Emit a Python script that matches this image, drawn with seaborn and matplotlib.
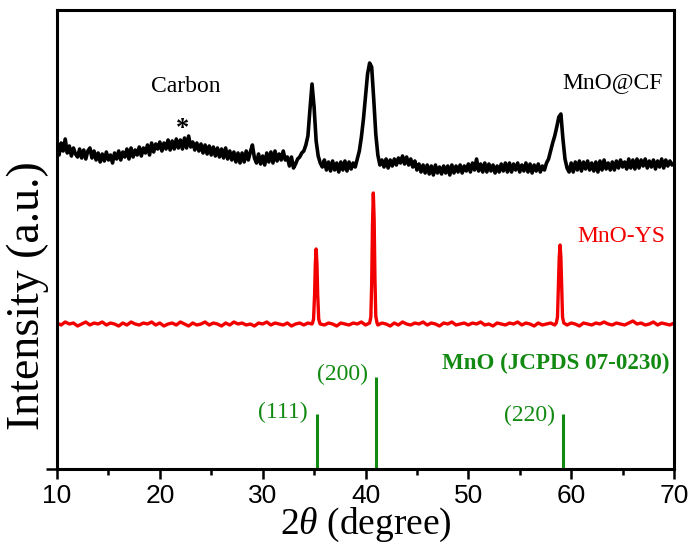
import numpy as np
import pandas as pd
import matplotlib
matplotlib.use("Agg")
import matplotlib.pyplot as plt
from matplotlib.ticker import MultipleLocator
import seaborn as sns

# ---------------- data ----------------
# MnO@CF trace, sampled every 0.2 degree from 10 to 70
cf_x_start, cf_x_step = 10.0, 0.2
cf_y = [
    321, 314, 326, 318, 330, 316, 323, 313, 321, 315,   # 10.0-11.8
    312, 320, 311, 319, 310, 318, 321, 311, 318, 309,   # 12
    316, 307, 315, 308, 317, 309, 314, 306, 316, 310,   # 14
    318, 309, 317, 312, 320, 310, 321, 312, 319, 314,   # 16
    322, 313, 321, 316, 324, 314, 326, 317, 325, 320,   # 18
    327, 318, 326, 320, 329, 319, 328, 320, 330, 321,   # 20
    329, 320, 331, 321, 333, 322, 327, 319, 326, 318,   # 22
    325, 316, 324, 315, 323, 314, 322, 313, 321, 312,   # 24
    320, 311, 321, 310, 318, 309, 317, 307, 316, 306,   # 26
    316, 307, 318, 309, 317, 324, 311, 306, 315, 305,   # 28
    313, 304, 316, 307, 317, 306, 318, 308, 315, 309,   # 30
    318, 309, 312, 303, 312, 301, 305, 310, 312, 316,   # 32
    318, 324, 333, 360, 385, 362, 328, 313, 306, 302,   # 34
    309, 299, 307, 298, 308, 299, 306, 297, 307, 299,   # 36
    308, 298, 307, 300, 306, 302, 310, 318, 332, 350,   # 38
    372, 395, 406, 402, 370, 335, 314, 304, 309, 302,   # 40
    310, 301, 309, 303, 310, 304, 311, 306, 313, 305,   # 42
    312, 304, 310, 302, 308, 299, 305, 297, 304, 296,   # 44
    304, 295, 303, 294, 304, 296, 302, 295, 303, 296,   # 46
    303, 294, 304, 296, 303, 297, 304, 296, 303, 298,   # 48
    305, 297, 306, 299, 310, 298, 305, 297, 306, 297,   # 50
    305, 298, 304, 296, 303, 297, 305, 298, 306, 297,   # 52
    306, 297, 305, 299, 306, 297, 304, 298, 306, 297,   # 54
    305, 296, 304, 298, 305, 297, 303, 299, 306, 310,   # 56
    318, 326, 333, 342, 352, 355, 330, 310, 301, 297,   # 58
    306, 297, 307, 299, 308, 298, 307, 300, 308, 299,   # 60
    306, 298, 307, 297, 308, 299, 309, 300, 306, 299,   # 62
    307, 299, 308, 301, 309, 302, 307, 300, 310, 301,   # 64
    309, 300, 310, 301, 309, 303, 310, 301, 308, 302,   # 66
    309, 300, 308, 302, 310, 301, 309, 303, 308, 304,   # 68
    306,                                                # 70
]

# MnO-YS baseline, sampled every 0.4 degree from 10 to 70
ys_base_start, ys_base_step = 10.0, 0.4
ys_base_y = [
    146, 144, 147, 145, 146, 143, 145, 147, 144, 146,
    145, 147, 144, 146, 145, 143, 146, 144, 147, 145,
    144, 146, 145, 147, 144, 146, 143, 145, 146, 144,
    147, 145, 143, 146, 144, 145, 147, 144, 146, 145,
    143, 146, 144, 147, 145, 146, 144, 145, 143, 146,
    145, 147, 144, 146, 145, 144, 146, 143, 145, 146,
    144, 146, 145, 147, 145, 144, 146, 145, 143, 146,
    145, 144, 146, 145, 147, 144, 146, 145, 144, 146,
    145, 143, 146, 144, 147, 145, 144, 146, 145, 147,
    144, 146, 145, 143, 146, 145, 147, 144, 145, 146,
    144, 146, 145, 147, 144, 145, 143, 146, 145, 144,
    146, 145, 147, 144, 146, 145, 143, 146, 144, 145,
    146, 144, 145, 147, 144, 146, 145, 143, 146, 145,
    144, 146, 145, 147, 145, 144, 146, 145, 144, 146,
    148, 145, 146, 144, 145, 147, 144, 146, 145, 144,
    146,
]
# MnO-YS peak profiles
ys_peak_x = [
    [34.85, 34.95, 35.05, 35.12, 35.20, 35.28, 35.35, 35.45, 35.55],
    [40.40, 40.52, 40.60, 40.68, 40.76, 40.84, 40.92, 41.00, 41.12],
    [58.55, 58.67, 58.75, 58.84, 58.92, 59.00, 59.08, 59.16, 59.28],
]
ys_peak_y = [
    [146, 150, 175, 205, 220, 205, 175, 150, 146],
    [146, 152, 185, 245, 276, 250, 190, 153, 146],
    [146, 152, 180, 212, 224, 212, 180, 152, 146],
]

# JCPDS 07-0230 reference lines
ref_pos = [35.3, 41.0, 59.2]
ref_height = [55, 92, 55]
ref_hkl = ["(111)", "(200)", "(220)"]

# ---------------- build tables ----------------
cf_x = cf_x_start + cf_x_step * np.arange(len(cf_y))
cf_df = pd.DataFrame({"two_theta": cf_x, "intensity": cf_y})

ys_bx = ys_base_start + ys_base_step * np.arange(len(ys_base_y))
ys_by = np.array(ys_base_y, dtype=float)
keep = np.ones(len(ys_bx), dtype=bool)
for px in ys_peak_x:
    keep &= ~((ys_bx >= min(px)) & (ys_bx <= max(px)))
ys_x = np.concatenate([ys_bx[keep]] + [np.array(p) for p in ys_peak_x])
ys_y = np.concatenate([ys_by[keep]] + [np.array(p, dtype=float) for p in ys_peak_y])
order = np.argsort(ys_x)
ys_df = pd.DataFrame({"two_theta": ys_x[order], "intensity": ys_y[order]})

# ---------------- style ----------------
sns.set_theme(style="ticks")
plt.rcParams["font.family"] = ["Liberation Serif", "DejaVu Serif"]
plt.rcParams["mathtext.fontset"] = "custom"
plt.rcParams["mathtext.rm"] = "Liberation Serif"
plt.rcParams["mathtext.it"] = "Liberation Serif:italic"
for key in ["text.color", "axes.labelcolor", "xtick.color", "ytick.color", "axes.edgecolor"]:
    plt.rcParams[key] = "black"

GREEN = "#128a12"
RED = "#f20000"

fig = plt.figure(figsize=(6.93, 5.5), dpi=100)
ax = fig.add_axes([57 / 693, 1 - 469 / 550, 617 / 693, 459 / 550])

sns.lineplot(data=cf_df, x="two_theta", y="intensity", ax=ax, color="black",
             linewidth=2.6, sort=False, estimator=None)
sns.lineplot(data=ys_df, x="two_theta", y="intensity", ax=ax, color=RED,
             linewidth=2.4, sort=False, estimator=None)
ax.vlines(ref_pos, 0, ref_height, colors=GREEN, linewidth=2.2)

ax.set_xlim(10, 70)
ax.set_ylim(0, 459)

# ticks
ax.xaxis.set_major_locator(MultipleLocator(10))
ax.xaxis.set_minor_locator(MultipleLocator(5))
ax.set_yticks([0])
ax.set_yticklabels([""])
ax.tick_params(axis="x", which="major", direction="out", length=7, width=1.8,
               labelsize=19, pad=4, top=False, colors="black")
ax.tick_params(axis="x", which="minor", direction="out", length=4, width=1.8, top=False)
ax.tick_params(axis="y", which="major", direction="out", length=8, width=1.8, right=False)
for lab in ax.get_xticklabels():
    lab.set_fontfamily(["Liberation Sans", "DejaVu Sans"])

for sp in ax.spines.values():
    sp.set_linewidth(2.2)
    sp.set_color("black")
    sp.set_visible(True)

ax.set_xlabel(r"2$\theta$ (degree)", fontsize=27, va="center", color="black")
ax.xaxis.set_label_coords(0.5, (469 - 525) / 459)
ax.set_ylabel("Intensity (a.u.)", fontsize=33, va="center", color="black")
ax.yaxis.set_label_coords((28 - 57) / 617, (469 - 296) / 459)

# annotations
ax.text(22.55, 383, "Carbon", fontsize=17, ha="center", va="center", color="black")
ax.text(22.2, 341, "*", fontsize=19, fontweight="bold", ha="center", va="center", color="black")
ax.text(68.93, 386, "MnO@CF", fontsize=17, ha="right", va="center", color="black")
ax.text(69.13, 232, "MnO-YS", fontsize=17, ha="right", va="center", color=RED)
ax.text(69.61, 106, "MnO (JCPDS 07-0230)", fontsize=16.6, fontweight="bold",
        ha="right", va="center", color=GREEN)
label_xy = [(34.41, 57), (40.24, 95), (58.43, 54)]
for (lx, ly), hkl in zip(label_xy, ref_hkl):
    ax.text(lx, ly, hkl, fontsize=17, ha="right", va="center", color=GREEN)

fig.savefig("out.png", dpi=100)
